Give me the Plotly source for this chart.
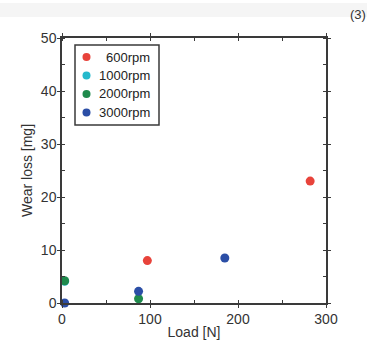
import plotly.graph_objects as go

series_names = ["600rpm", "1000rpm", "2000rpm", "3000rpm"]
series_colors = ["#e8433b", "#25b9cc", "#1f8a4c", "#2b4ea6"]
load_600 = [97, 282]
wear_600 = [8.0, 23.0]
load_1000 = [3]
wear_1000 = [4.1]
load_2000 = [3, 87]
wear_2000 = [4.2, 0.8]
load_3000 = [3, 87, 185]
wear_3000 = [0.0, 2.2, 8.5]

xs = [load_600, load_1000, load_2000, load_3000]
ys = [wear_600, wear_1000, wear_2000, wear_3000]

x_ticks = [0, 100, 200, 300]
y_ticks = [0, 10, 20, 30, 40, 50]

W, H = 382, 349
ML, MR, MT, MB = 62, 56, 38, 46
PW, PH = W - ML - MR, H - MT - MB


def px(x):
    return (x - ML) / PW


def py(y):
    return (H - MB - y) / PH


fig = go.Figure()
for name, color, x, y in zip(series_names, series_colors, xs, ys):
    fig.add_trace(go.Scatter(x=x, y=y, mode="markers", name=name,
                             marker=dict(color=color, size=9, line=dict(width=0)),
                             cliponaxis=False, showlegend=False))

axis_common = dict(showline=True, linecolor="#3a3a3a", linewidth=1.5, mirror="ticks",
                   showgrid=False, zeroline=False, ticks="outside", ticklen=3,
                   tickcolor="#3a3a3a", tickwidth=1.2,
                   tickfont=dict(family="Liberation Sans, Arial", size=14, color="#333333"),
                   title_font=dict(family="Liberation Sans, Arial", size=14, color="#333333"))

fig.update_xaxes(range=[0, 300], tickvals=x_ticks, title_text="Load [N]", title_standoff=2,
                 ticklabelstandoff=-1,
                 minor=dict(ticks="inside", dtick=50, tick0=0, ticklen=3, tickcolor="#3a3a3a"),
                 **axis_common)
fig.update_yaxes(range=[0, 50], tickvals=y_ticks, title_text="Wear loss [mg]", title_standoff=5,
                 ticklabelstandoff=-2,
                 minor=dict(ticks="inside", dtick=5, tick0=0, ticklen=3, tickcolor="#3a3a3a"),
                 **axis_common)

shapes = [
    dict(type="rect", xref="paper", yref="paper", layer="below",
         x0=px(0), x1=px(367), y0=py(17), y1=py(3),
         fillcolor="#f5f5f5", line=dict(width=0)),
    # legend box
    dict(type="rect", xref="paper", yref="paper", layer="above",
         x0=px(75), x1=px(159), y0=py(125), y1=py(45),
         fillcolor="white", line=dict(color="#3a3a3a", width=1.5)),
]
annotations = [dict(text="(3)", xref="paper", yref="paper", x=px(368), y=py(14),
                    xanchor="right", yanchor="middle", showarrow=False,
                    font=dict(family="Liberation Sans, Arial", size=13, color="#333333"))]

legend_rows = [57, 75.5, 94, 112.5]
r = 4
for name, color, yy in zip(series_names, series_colors, legend_rows):
    shapes.append(dict(type="circle", xref="paper", yref="paper", layer="above",
                       x0=px(86.5 - r), x1=px(86.5 + r), y0=py(yy + r), y1=py(yy - r),
                       fillcolor=color, line=dict(width=0)))
    annotations.append(dict(text=name, xref="paper", yref="paper", x=px(152), y=py(yy),
                            xanchor="right", yanchor="middle", showarrow=False,
                            font=dict(family="Liberation Sans, Arial", size=13, color="#222222")))

fig.update_layout(
    width=W, height=H,
    margin=dict(l=ML, r=MR, t=MT, b=MB),
    paper_bgcolor="white", plot_bgcolor="white",
    showlegend=False,
    shapes=shapes,
    annotations=annotations,
)

fig.write_html("out.html")
